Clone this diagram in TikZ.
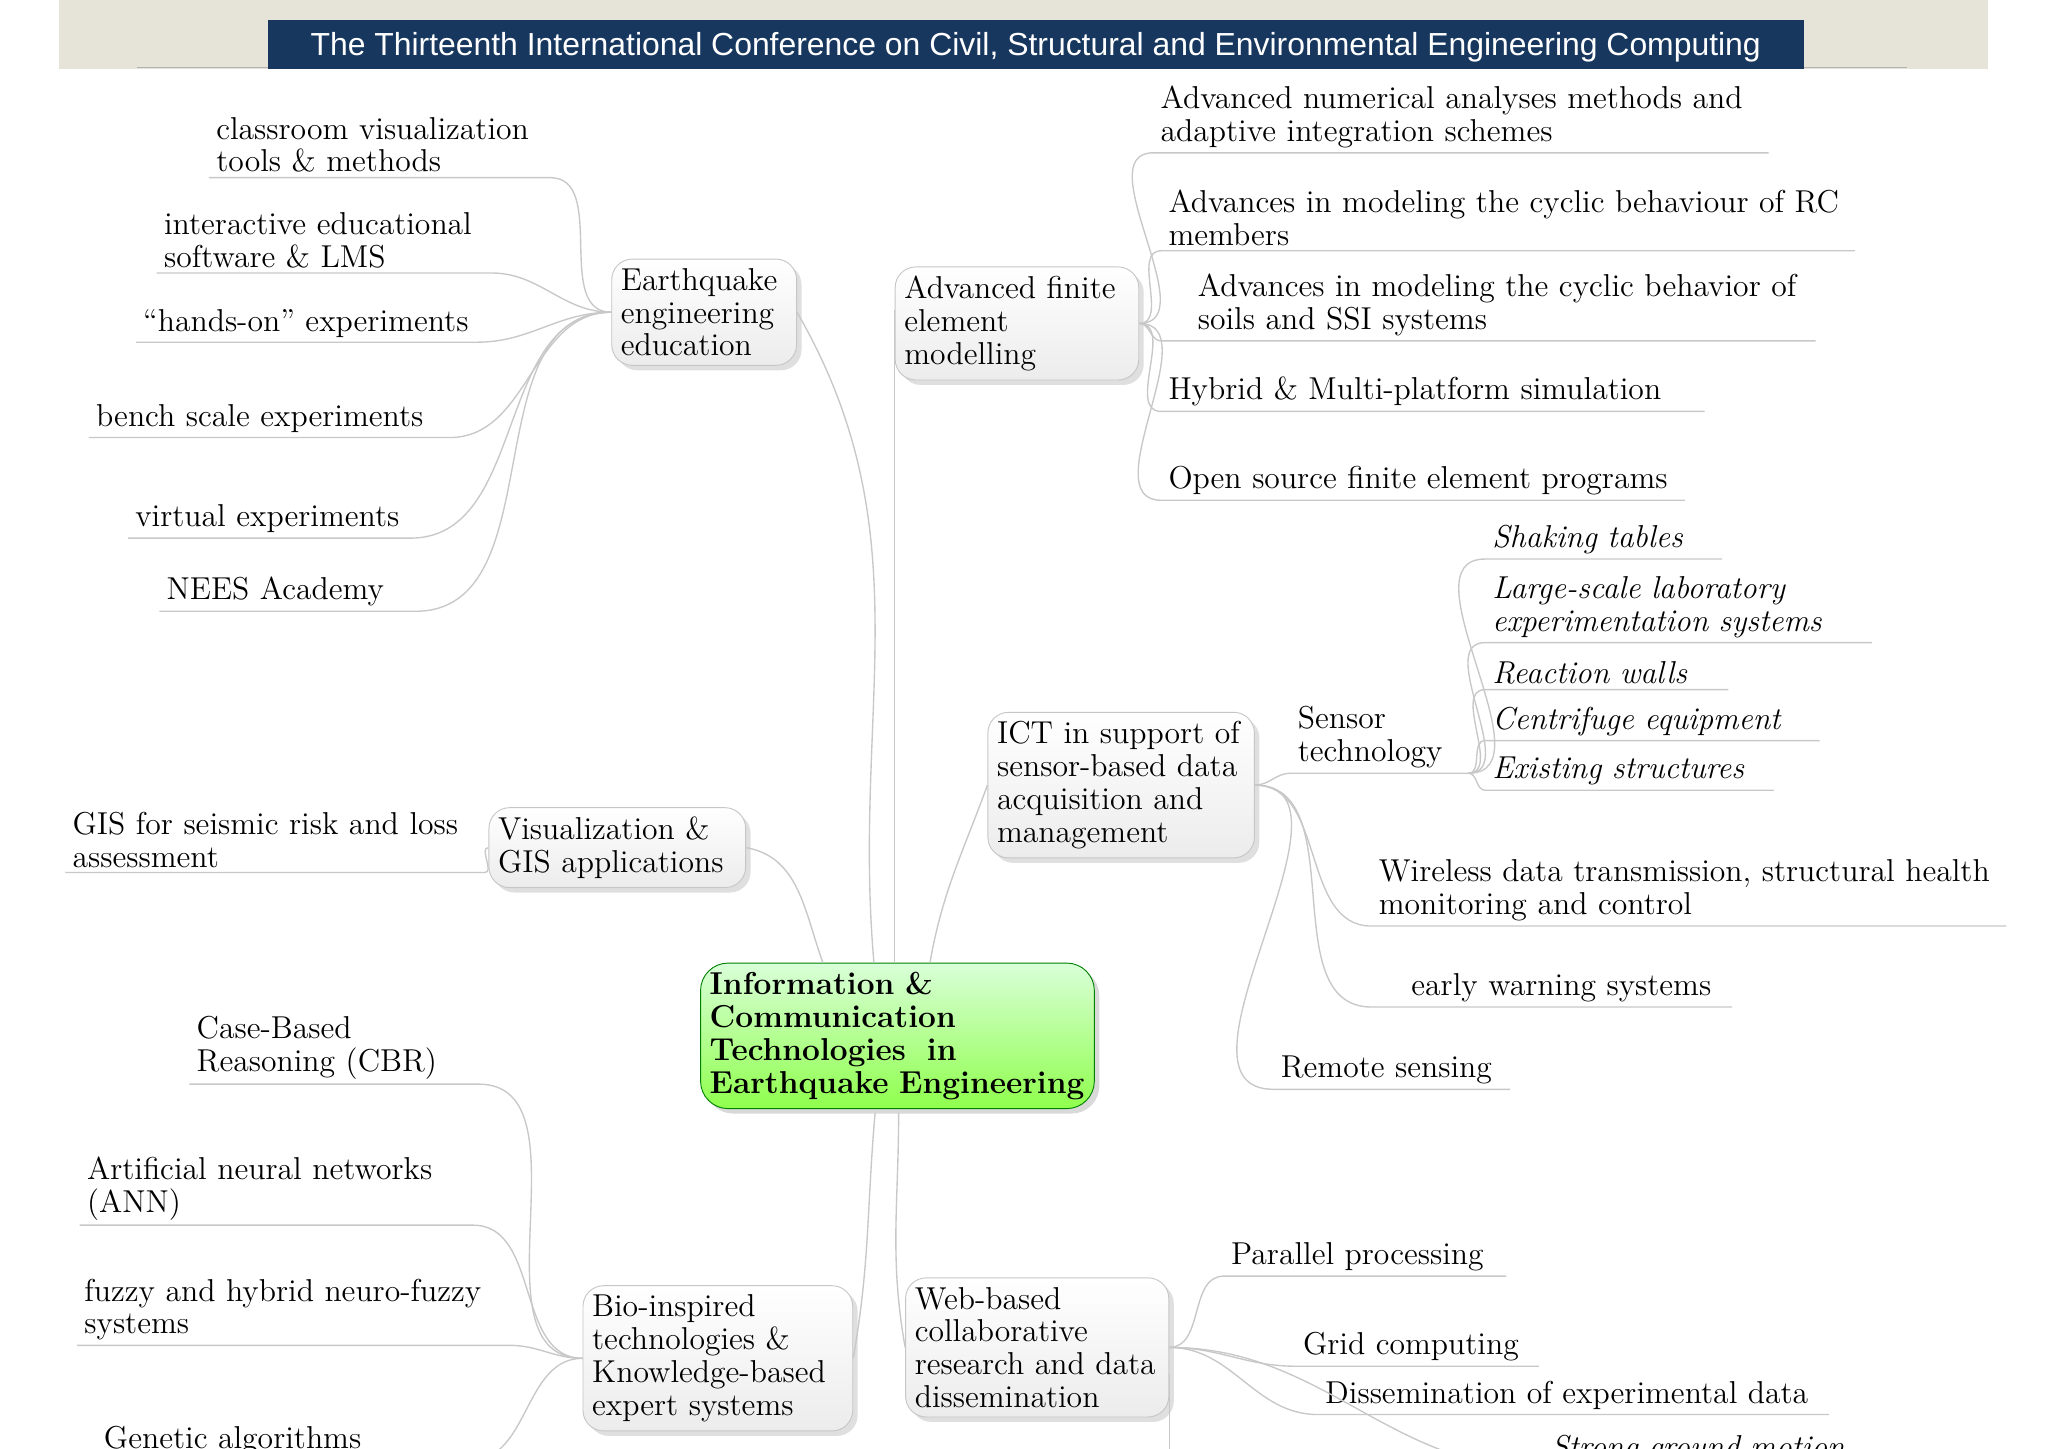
\documentclass[tikz,border=0pt]{standalone}
\usepackage{fontspec}
\newfontfamily\titlefont{Liberation Sans}
\usetikzlibrary{shadows}
\definecolor{titlebg}{HTML}{E6E4D8}
\definecolor{titlebar}{HTML}{17375E}
\definecolor{linkgray}{HTML}{C8C8C8}
\tikzset{
  every node/.style={font=\fontsize{13.8}{14.3}\selectfont},
  box/.style={draw=gray!45, rounded corners=9pt, top color=white, bottom color=gray!15,
    drop shadow={opacity=0.25}, align=left, inner sep=4pt, anchor=north west},
  hub/.style={draw=green!50!black, rounded corners=12pt, top color=green!15, bottom color=green!50!lime!70,
    drop shadow={opacity=0.3}, align=left, font=\fontsize{13.8}{14.3}\selectfont\bfseries, anchor=north west, inner sep=4pt},
  leaf/.style={anchor=south west, align=left, inner xsep=3pt, inner ysep=2pt},
  link/.style={draw=linkgray, line width=0.6pt},
}
\begin{document}
\begin{tikzpicture}[x=0.02cm, y=-0.02cm]
  \useasboundingbox (0,0) rectangle (1568,1109);
  \clip (0,0) rectangle (1568,1109);
  % title
  \fill[titlebg] (45,0) rectangle (1522,53);
  \draw[gray!60] (105,52) -- (1460,52);
  \fill[titlebar] (205,15) rectangle (1381,53);
  \node[text=white, font=\titlefont\fontsize{13.9}{16}\selectfont] (title) at (793,36)
    {The Thirteenth International Conference on Civil, Structural and Environmental Engineering Computing};

  % hub and branches
  \node[hub, text width=5.75cm] (ict) at (536,737) {Information \&\\Communication\\Technologies~ in\\Earthquake Engineering};
  \node[box, text width=2.55cm] (edu) at (468,198) {Earthquake\\engineering\\education};
  \node[box, text width=3.45cm] (fem) at (685,204) {Advanced finite\\element\\modelling};
  \node[box, text width=3.8cm] (sen) at (756,545) {ICT in support of\\sensor-based data\\acquisition and\\management};
  \node[box, text width=3.65cm] (gis) at (374,618) {Visualization \&\\GIS applications};
  \node[box, text width=3.85cm] (bio) at (446,984) {Bio-inspired\\technologies \&\\Knowledge-based\\expert systems};
  \node[box, text width=3.75cm] (web) at (693,978) {Web-based\\collaborative\\research and data\\dissemination};

  \draw[link] (ict.north) ++(-18,0) coordinate (c1) (edu.east) to[out=-60,in=95] (c1);
  \draw[link] (fem.west) ++(0,-10) coordinate (c2) -- (c2 |- ict.north);
  \draw[link] (sen.west) to[out=-110,in=80] (712,737) coordinate (c3);
  \draw[link] (gis.east) to[out=-10,in=110] (630,737) coordinate (c4);
  \draw[link] (bio.east) to[out=80,in=-95] (670,852) coordinate (c5);
  \draw[link] (web.west) to[out=100,in=-90] (688,852) coordinate (c6);

  % education leaves
  \node[leaf, text width=5cm] (e1) at (160,136) {classroom visualization\\tools \& methods};
  \node[leaf, text width=4.9cm] (e2) at (120,209) {interactive educational\\software \& LMS};
  \node[leaf, text width=5cm] (e3) at (104,262) {``hands-on'' experiments};
  \node[leaf, text width=5.3cm] (e4) at (68,335) {bench scale experiments};
  \node[leaf, text width=4.1cm] (e5) at (98,412) {virtual experiments};
  \node[leaf, text width=3.7cm] (e6) at (122,468) {NEES Academy};
  \foreach \n in {e1,e2,e3,e4,e5,e6} {
    \draw[link] (\n.south west) -- (\n.south east) to[out=0,in=180] (edu.west);
  }

  % finite element leaves
  \node[leaf, text width=9.2cm] (f1) at (883,117) {Advanced numerical analyses methods and\\adaptive integration schemes};
  \node[leaf, text width=10.4cm] (f2) at (889,192) {Advances in modeling the cyclic behaviour of RC\\members};
  \node[leaf, text width=9.8cm] (f3) at (889,261) {\hspace*{0.45cm}Advances in modeling the cyclic behavior of\\\hspace*{0.45cm}soils and SSI systems};
  \node[leaf, text width=8.1cm] (f4) at (889,315) {Hybrid \& Multi-platform simulation};
  \node[leaf, text width=7.8cm] (f5) at (889,383) {Open source finite element programs};
  \foreach \n in {f1,f2,f3,f4,f5} {
    \draw[link] (\n.south east) -- (\n.south west) to[out=180,in=0] (fem.east);
  }

  % sensor leaves
  \node[leaf, text width=2.5cm] (s1) at (988,592) {Sensor\\technology};
  \node[leaf, text width=9.5cm] (s2) at (1050,709) {Wireless data transmission, structural health\\monitoring and control};
  \node[leaf, text width=5.3cm] (s3) at (1050,771) {\hspace*{0.5cm}early warning systems};
  \node[leaf, text width=3.4cm] (s4) at (975,834) {Remote sensing};
  \foreach \n in {s1,s2,s3,s4} {
    \draw[link] (\n.south east) -- (\n.south west) to[out=180,in=0] (sen.east);
  }
  \begin{scope}[every node/.append style={font=\fontsize{13.8}{14.3}\selectfont\itshape}]
    \node[leaf, text width=3.4cm] (t1) at (1137,428) {Shaking tables};
    \node[leaf, text width=5.7cm] (t2) at (1137,492) {Large-scale laboratory\\experimentation systems};
    \node[leaf, text width=3.5cm] (t3) at (1137,528) {Reaction walls};
    \node[leaf, text width=4.9cm] (t4) at (1137,567) {Centrifuge equipment};
    \node[leaf, text width=4.2cm] (t5) at (1137,605) {Existing structures};
  \end{scope}
  \foreach \n in {t1,t2,t3,t4,t5} {
    \draw[link] (\n.south east) -- (\n.south west) to[out=180,in=0] (s1.south east);
  }

  % GIS leaf
  \node[leaf, text width=6.2cm] (g1) at (50,668) {GIS for seismic risk and loss\\assessment};
  \draw[link] (g1.south west) -- (g1.south east) to[out=0,in=180] (gis.west);

  % bio leaves
  \node[leaf, text width=4.2cm] (b1) at (145,830) {Case-Based\\Reasoning (CBR)};
  \node[leaf, text width=5.8cm] (b2) at (61,938) {Artificial neural networks\\(ANN)};
  \node[leaf, text width=6.4cm] (b3) at (59,1030) {fuzzy and hybrid neuro-fuzzy\\systems};
  \node[leaf, text width=5.5cm] (b4) at (74,1118) {Genetic algorithms};
  \foreach \n in {b1,b2,b3,b4} {
    \draw[link] (\n.south west) -- (\n.south east) to[out=0,in=180] (bio.west);
  }

  % web leaves
  \node[leaf, text width=4.1cm] (w1) at (937,977) {Parallel processing};
  \node[leaf, text width=3.5cm] (w2) at (992,1046) {Grid computing};
  \node[leaf, text width=7.6cm] (w3) at (1009,1083) {Dissemination of experimental data};
  \node[leaf, text width=5cm, font=\fontsize{13.8}{14.3}\selectfont\itshape] (w4) at (1182,1125) {Strong ground motion};
  \foreach \n in {w1,w2,w3,w4} {
    \draw[link] (\n.south east) -- (\n.south west) to[out=180,in=0] (web.east);
  }
  \draw[link] (web.east) ++(0,20) coordinate (w5) -- ++(0,120);
\end{tikzpicture}
\end{document}
